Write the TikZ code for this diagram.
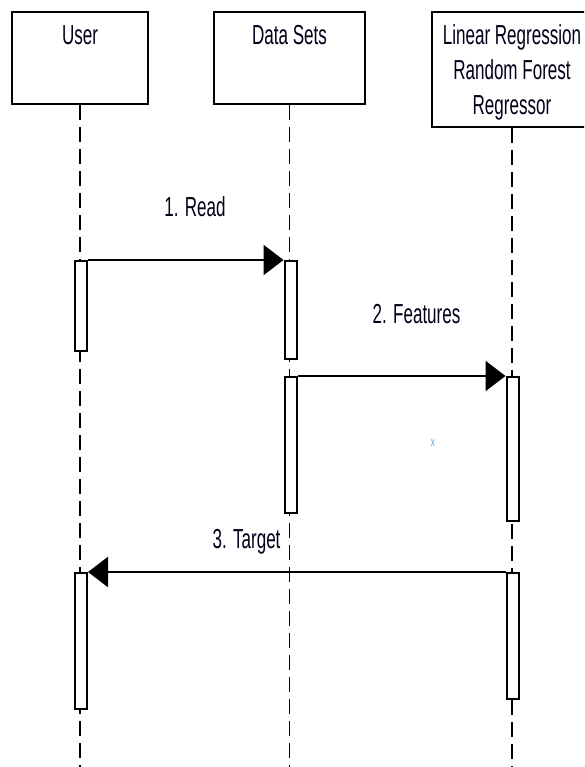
\documentclass[tikz,border=0pt]{standalone}
\usepackage{fontspec}
\setmainfont{Liberation Sans}[FakeStretch=0.62]
\usetikzlibrary{arrows.meta}
\tikzset{
  head/.style={draw=black, line width=2.6pt, fill=white, inner sep=0pt},
  lbl/.style={inner sep=0pt, anchor=base, font=\fontsize{27.5}{35}\selectfont, text=black!90!blue},
  life/.style={draw=black, line width=1.7pt, dash pattern=on 15pt off 7pt},
  actbox/.style={draw=black, line width=2pt, fill=white, inner sep=0pt, minimum width=12pt, anchor=north},
  msg/.style={draw=black, line width=2.4pt, -{Triangle[length=20pt,width=30pt]}},
  bluex/.style={inner sep=0pt, font=\fontsize{13}{14}\selectfont, text=cyan!80!blue!70}
}
\begin{document}
\begin{tikzpicture}[x=1pt,y=-1pt]
\useasboundingbox (0,0) rectangle (584,767);
\clip (0,0) rectangle (584,767);
% participant boxes
\node[head, minimum width=136pt, minimum height=92pt] (user) at (80,58) {};
\node[head, minimum width=151pt, minimum height=92pt] (data) at (289.5,58) {};
\node[head, minimum width=160pt, minimum height=115pt] (model) at (512,69.5) {};
\node[lbl] (userT) at (80,45) {User};
\node[lbl] (dataT) at (289.5,45) {Data Sets};
\node[lbl] (modelT1) at (512,45) {Linear Regression};
\node[lbl] (modelT2) at (512,80) {Random Forest};
\node[lbl] (modelT3) at (512,115) {Regressor};
% lifelines
\coordinate (userEnd) at (80,767);
\coordinate (dataEnd) at (289.5,767);
\coordinate (modelEnd) at (512,767);
\draw[life] (user.south) -- (userEnd);
\draw[life] (data.south) -- (dataEnd);
\draw[life] (model.south) -- (modelEnd);
% activations
\node[actbox, minimum height=90pt] (ua1) at (81,260) {};
\node[actbox, minimum height=98pt] (da1) at (290.5,260) {};
\node[actbox, minimum height=136pt] (da2) at (291,376) {};
\node[actbox, minimum height=144pt] (ma1) at (512.5,376) {};
\node[actbox, minimum height=136pt] (ua2) at (81,572) {};
\node[actbox, minimum height=126pt] (ma2) at (512.5,572) {};
% messages
\draw[msg] (ua1.north east) -- (da1.north west);
\draw[msg] (da2.north east) -- (ma1.north west);
\draw[msg] (ma2.north west) -- (ua2.north east);
\node[lbl] (m1) at (195,217) {1. Read};
\node[lbl] (m2) at (416.5,323) {2. Features};
\node[lbl] (m3) at (246.5,548) {3. Target};
\node[bluex] (x) at (433,443) {x};
\end{tikzpicture}
\end{document}
